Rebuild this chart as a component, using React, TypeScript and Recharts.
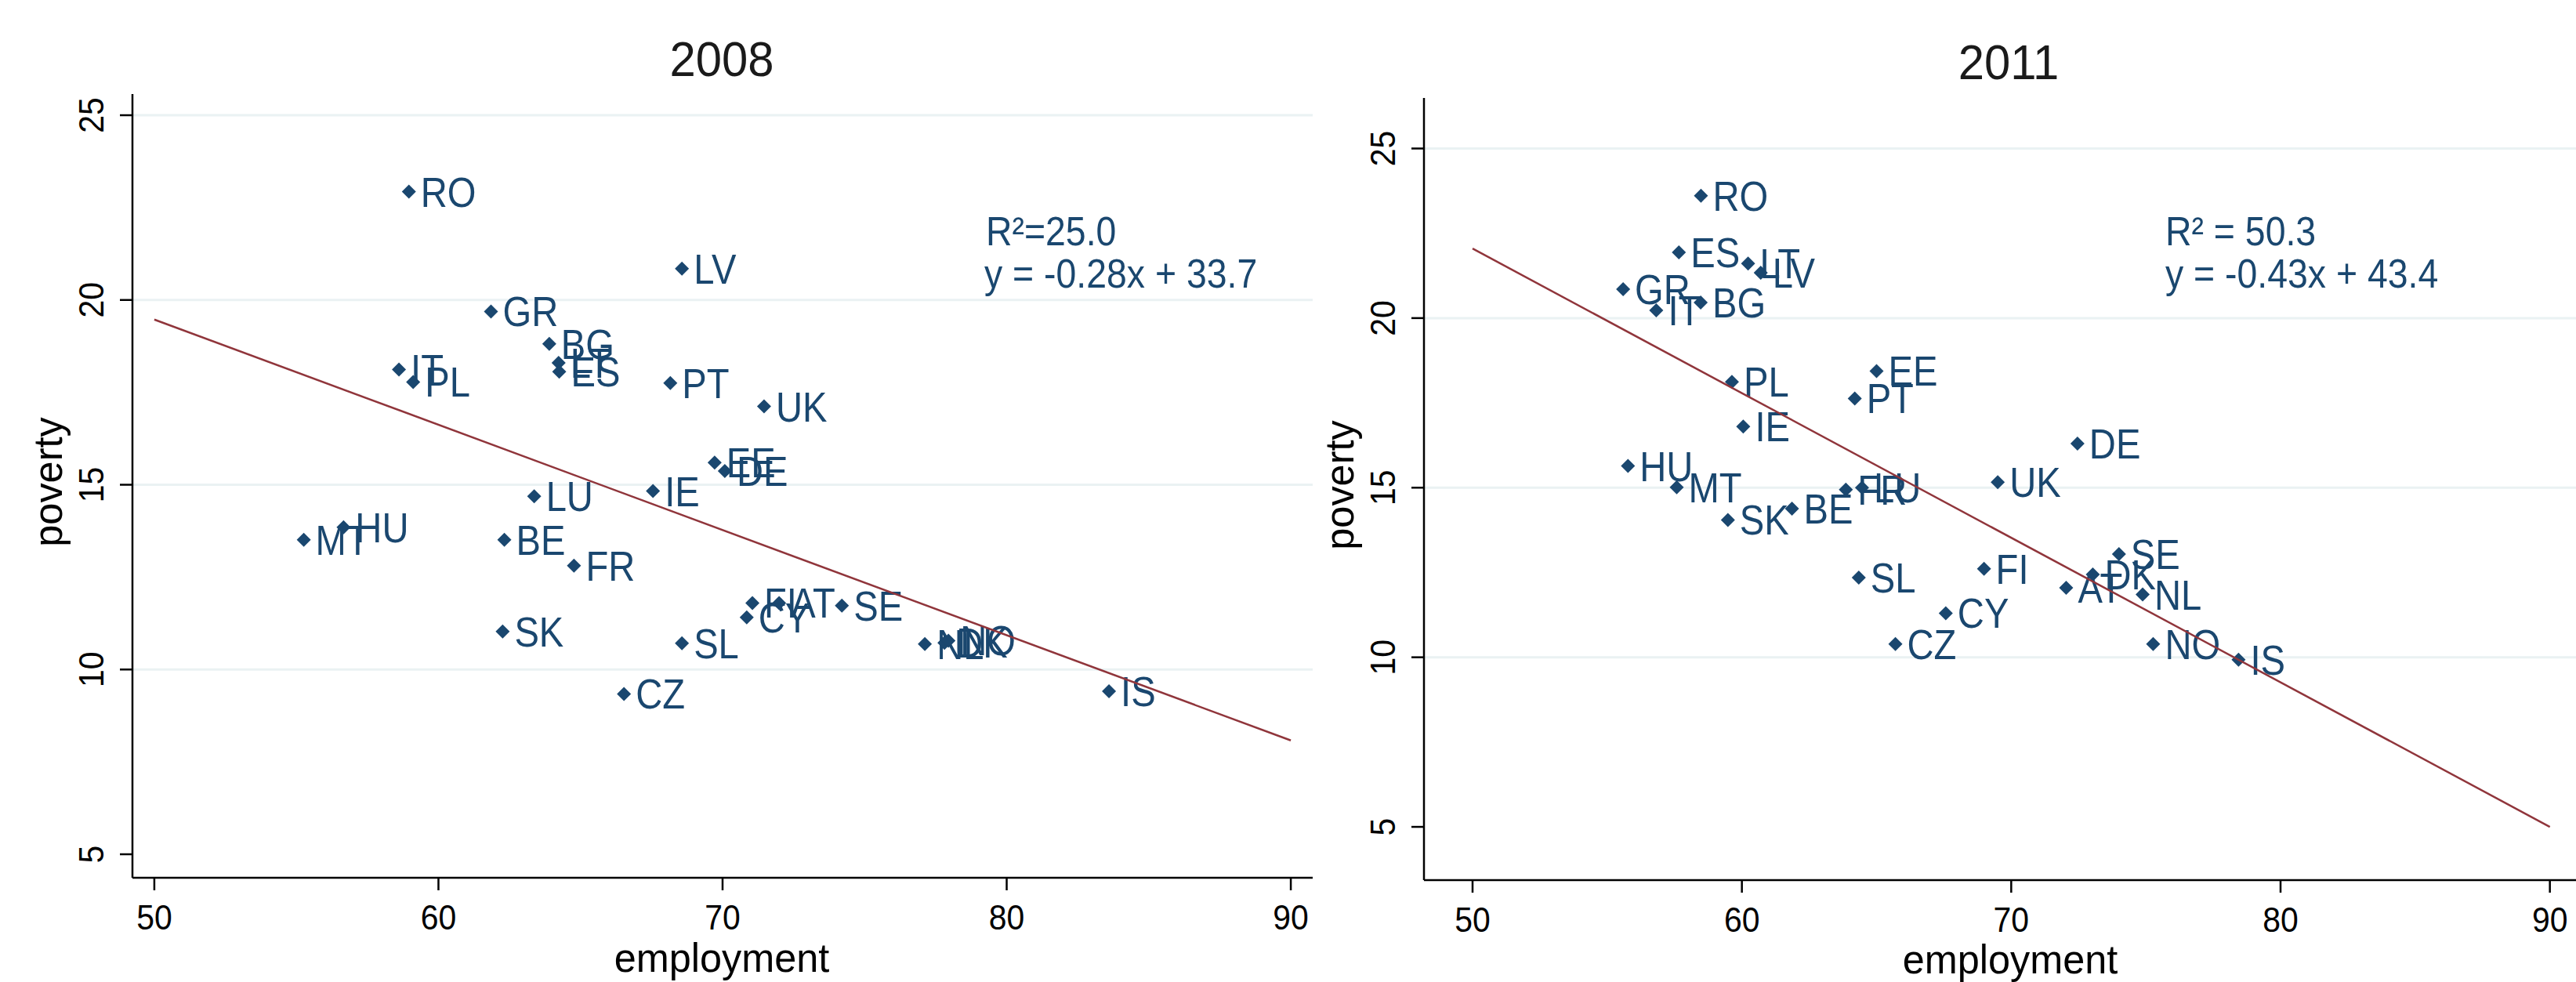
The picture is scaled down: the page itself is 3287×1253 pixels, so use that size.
import React from 'react';
import { ScatterChart, Scatter, XAxis, YAxis, ReferenceLine } from 'recharts';

const NAVY = '#1a476f';
const MAROON = '#90353b';
const GRID = '#eaf2f3';
const FONT = '"Liberation Sans", Arial, sans-serif';

// 2008 panel
const countries2008 = ['RO', 'LV', 'GR', 'BG', 'LT', 'ES', 'IT', 'PL', 'PT', 'UK', 'EE', 'DE', 'LU', 'IE', 'HU', 'MT', 'BE', 'FR', 'FI', 'AT', 'CY', 'SE', 'SK', 'SL', 'NL', 'DK', 'NO', 'CZ', 'IS'];
const employment2008 = [58.96, 68.57, 61.85, 63.9, 64.23, 64.25, 58.61, 59.11, 68.16, 71.46, 69.72, 70.08, 63.37, 67.55, 56.66, 55.26, 62.32, 64.77, 71.05, 71.99, 70.85, 74.2, 62.26, 68.57, 77.12, 77.81, 77.95, 66.53, 83.6];
const poverty2008 = [22.93, 20.85, 19.69, 18.81, 18.3, 18.06, 18.12, 17.78, 17.75, 17.12, 15.6, 15.37, 14.69, 14.83, 13.85, 13.51, 13.51, 12.81, 11.8, 11.8, 11.41, 11.73, 11.03, 10.71, 10.69, 10.72, 10.78, 9.34, 9.41];
const fitX2008 = [50, 90];
const fitY2008 = [19.47, 8.08];

// 2011 panel
const countries2011 = ['RO', 'ES', 'LT', 'LV', 'GR', 'IT', 'BG', 'PL', 'EE', 'PT', 'IE', 'DE', 'HU', 'MT', 'FR', 'LU', 'UK', 'BE', 'SK', 'SL', 'FI', 'AT', 'DK', 'SE', 'NL', 'CY', 'CZ', 'NO', 'IS'];
const employment2011 = [58.48, 57.66, 60.23, 60.7, 55.59, 56.82, 58.47, 59.63, 65.0, 64.19, 60.05, 72.46, 55.77, 57.58, 63.86, 64.46, 69.5, 61.86, 59.48, 64.34, 68.99, 72.04, 73.03, 74.0, 74.88, 67.57, 65.7, 75.27, 78.44];
const poverty2011 = [23.61, 21.94, 21.61, 21.34, 20.85, 20.23, 20.46, 18.12, 18.44, 17.63, 16.8, 16.3, 15.64, 15.01, 14.94, 15.0, 15.16, 14.38, 14.05, 12.35, 12.61, 12.05, 12.44, 13.04, 11.85, 11.3, 10.39, 10.39, 9.93];
const fitX2011 = [50, 90];
const fitY2011 = [22.05, 5.0];

const xTicks = [50, 60, 70, 80, 90];
const yTicks = [5, 10, 15, 20, 25];
const gridValues = [10, 15, 20, 25];

const toPoints = (names: string[], xs: number[], ys: number[]) =>
  names.map((name, i) => ({ name, x: xs[i], y: ys[i] }));
const toLine = (xs: number[], ys: number[]) => xs.map((x, i) => ({ x, y: ys[i] }));

// the source renders its text a bit narrower than Arial, so squeeze horizontally
const Txt = ({ x, y, size, sx = 1, rot = 0, anchor = 'start', fill = '#000', children }: any) => (
  <text
    transform={`translate(${x} ${y}) rotate(${rot}) scale(${sx} 1)`}
    textAnchor={anchor}
    fontSize={size}
    fill={fill}
    fontFamily={FONT}
  >
    {children}
  </text>
);

const XTick = ({ x, y, payload }: any) => (
  <Txt x={x} y={y + 50} size={44} sx={0.93} anchor="middle">
    {payload.value}
  </Txt>
);

const YTick = ({ x, y, payload }: any) => (
  <Txt x={x - 21.5} y={y} size={44} sx={0.93} rot={-90} anchor="middle">
    {payload.value}
  </Txt>
);

const Marker = ({ cx, cy, payload }: any) => (
  <g>
    <path d={`M${cx},${cy - 9}L${cx + 9},${cy}L${cx},${cy + 9}L${cx - 9},${cy}Z`} fill={NAVY} />
    <Txt x={cx + 15} y={cy + 19} size={53} sx={0.89} fill={NAVY}>
      {payload.name}
    </Txt>
  </g>
);

const NoShape = () => <g />;

interface PanelProps {
  width: number;
  margin: { top: number; right: number; bottom: number; left: number };
  xDomain: [number, number];
  yDomain: [number, number];
  points: { name: string; x: number; y: number }[];
  fit: { x: number; y: number }[];
}

const Panel: React.FC<PanelProps> = ({ width, margin, xDomain, yDomain, points, fit }) => (
  <ScatterChart width={width} height={1253} margin={margin}>
    <XAxis
      type="number"
      dataKey="x"
      domain={xDomain}
      ticks={xTicks}
      interval={0}
      height={80}
      tickSize={16}
      tickMargin={0}
      axisLine={{ stroke: '#000', strokeWidth: 2.5 }}
      tickLine={{ stroke: '#000', strokeWidth: 2.5 }}
      tick={<XTick />}
      allowDataOverflow
    />
    <YAxis
      type="number"
      dataKey="y"
      domain={yDomain}
      ticks={yTicks}
      interval={0}
      width={100}
      tickSize={16}
      tickMargin={0}
      axisLine={{ stroke: '#000', strokeWidth: 2.5 }}
      tickLine={{ stroke: '#000', strokeWidth: 2.5 }}
      tick={<YTick />}
      allowDataOverflow
    />
    {gridValues.map((v) => (
      <ReferenceLine key={v} y={v} stroke={GRID} strokeWidth={3} />
    ))}
    <Scatter data={points} shape={<Marker />} isAnimationActive={false} />
    <Scatter
      data={fit}
      line={{ stroke: MAROON, strokeWidth: 2.5 }}
      shape={<NoShape />}
      isAnimationActive={false}
    />
  </ScatterChart>
);

export default function App() {
  return (
    <div style={{ position: 'absolute', left: 0, top: 0, width: 3287, height: 1253, background: '#fff' }}>
      <div style={{ position: 'absolute', left: 0, top: 0 }}>
        <Panel
          width={1700}
          margin={{ top: 120, right: 25, bottom: 53, left: 69 }}
          xDomain={[49.23, 90.77]}
          yDomain={[4.364, 25.573]}
          points={toPoints(countries2008, employment2008, poverty2008)}
          fit={toLine(fitX2008, fitY2008)}
        />
      </div>
      <div style={{ position: 'absolute', left: 1700, top: 0 }}>
        <Panel
          width={1587}
          margin={{ top: 125, right: 0, bottom: 50, left: 17 }}
          xDomain={[48.196, 90.97]}
          yDomain={[3.43, 26.49]}
          points={toPoints(countries2011, employment2011, poverty2011)}
          fit={toLine(fitX2011, fitY2011)}
        />
      </div>
      <svg
        width={3287}
        height={1253}
        style={{ position: 'absolute', left: 0, top: 0, pointerEvents: 'none' }}
      >
        <Txt x={921} y={97} size={63} sx={0.95} anchor="middle" fill="#1a1a1a">2008</Txt>
        <Txt x={2563} y={101} size={63} sx={0.95} anchor="middle" fill="#1a1a1a">2011</Txt>
        <Txt x={79} y={615} size={52} sx={0.97} rot={-90} anchor="middle">poverty</Txt>
        <Txt x={1727} y={619} size={52} sx={0.97} rot={-90} anchor="middle">poverty</Txt>
        <Txt x={921} y={1240} size={52} sx={0.97} anchor="middle">employment</Txt>
        <Txt x={2565} y={1242} size={52} sx={0.97} anchor="middle">employment</Txt>
        <Txt x={1258} y={313} size={51} sx={0.91} fill={NAVY}>R²=25.0</Txt>
        <Txt x={1256} y={367} size={51} sx={0.91} fill={NAVY}>y = -0.28x + 33.7</Txt>
        <Txt x={2763} y={313} size={51} sx={0.91} fill={NAVY}>R² = 50.3</Txt>
        <Txt x={2763} y={367} size={51} sx={0.91} fill={NAVY}>y = -0.43x + 43.4</Txt>
      </svg>
    </div>
  );
}
